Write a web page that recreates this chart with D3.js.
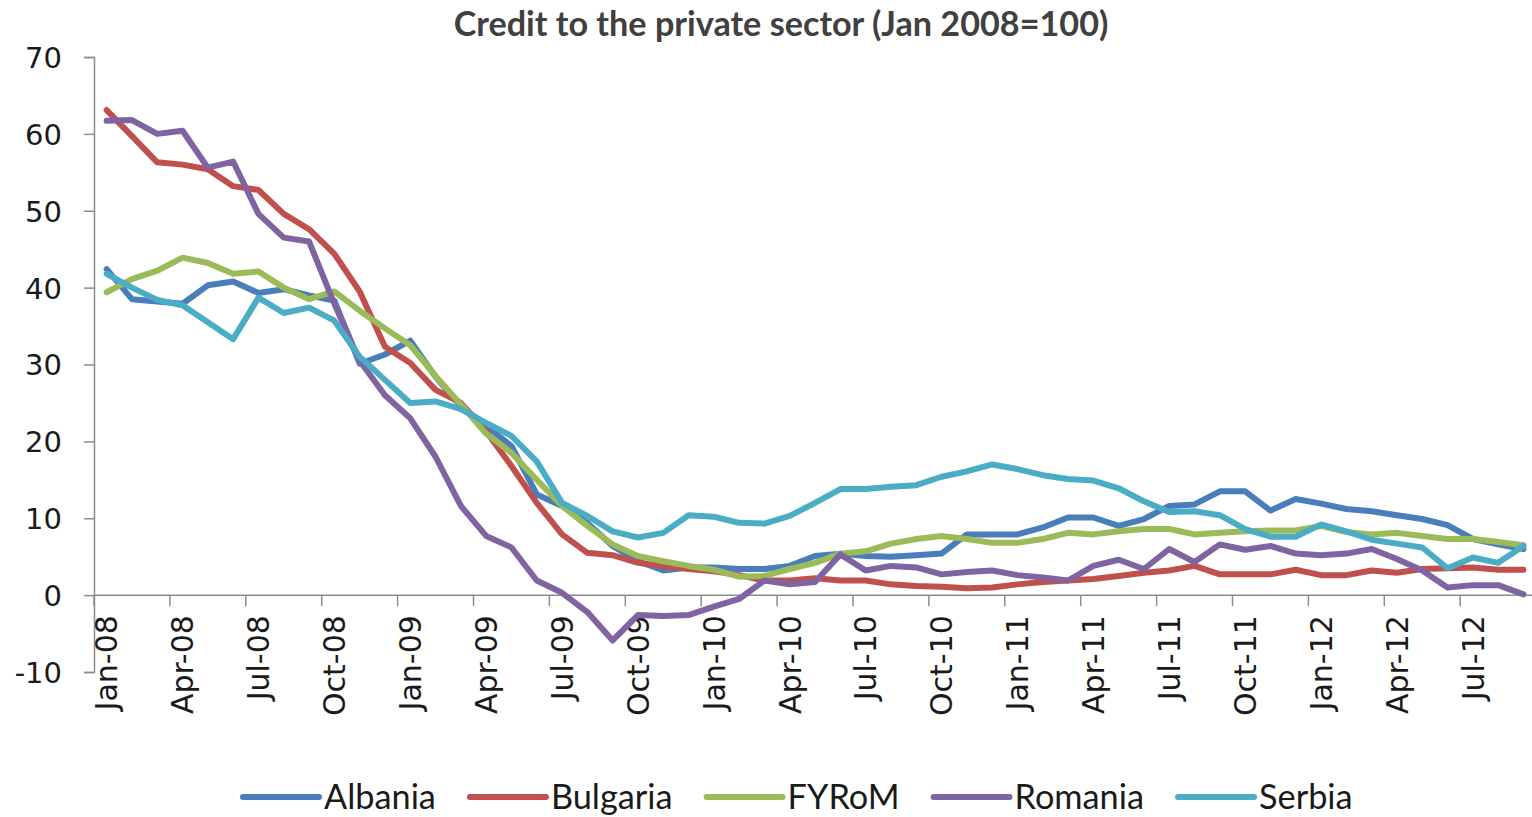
<!DOCTYPE html>
<html>
<head>
<meta charset="utf-8">
<script src="https://cdn.jsdelivr.net/npm/d3@7"></script>
<style>
  html, body { margin: 0; padding: 0; background: #fff; }
  svg { display: block; }
</style>
</head>
<body>
<svg id="chart" width="1532" height="817"></svg>
<script>
const months = [
  "Jan-08","Feb-08","Mar-08","Apr-08","May-08","Jun-08","Jul-08","Aug-08","Sep-08","Oct-08","Nov-08","Dec-08",
  "Jan-09","Feb-09","Mar-09","Apr-09","May-09","Jun-09","Jul-09","Aug-09","Sep-09","Oct-09","Nov-09","Dec-09",
  "Jan-10","Feb-10","Mar-10","Apr-10","May-10","Jun-10","Jul-10","Aug-10","Sep-10","Oct-10","Nov-10","Dec-10",
  "Jan-11","Feb-11","Mar-11","Apr-11","May-11","Jun-11","Jul-11","Aug-11","Sep-11","Oct-11","Nov-11","Dec-11",
  "Jan-12","Feb-12","Mar-12","Apr-12","May-12","Jun-12","Jul-12","Aug-12","Sep-12"
];
const tickLabels = ["Jan-08","Apr-08","Jul-08","Oct-08","Jan-09","Apr-09","Jul-09","Oct-09","Jan-10","Apr-10","Jul-10","Oct-10","Jan-11","Apr-11","Jul-11","Oct-11","Jan-12","Apr-12","Jul-12"];
const yTicks = [-10, 0, 10, 20, 30, 40, 50, 60, 70];

const seriesNames = ["Albania", "Bulgaria", "FYRoM", "Romania", "Serbia"];
const seriesColors = ["#4A7EBB", "#C0504D", "#9BBB59", "#8064A2", "#4BACC6"];

const albania = [42.4,38.5,38.2,37.9,40.3,40.8,39.3,39.8,39.0,38.3,30.1,31.3,
  33.1,28.4,24.6,22.0,19.4,13.1,11.6,9.4,6.4,4.4,3.2,3.6,
  3.6,3.4,3.4,3.8,5.1,5.4,5.1,5.0,5.2,5.4,7.9,7.9,
  7.9,8.8,10.1,10.1,9.0,9.9,11.6,11.8,13.5,13.5,11.0,12.5,
  11.9,11.2,10.9,10.4,9.9,9.1,7.3,6.6,6.0];
const bulgaria = [63.1,59.7,56.3,56.0,55.4,53.2,52.7,49.6,47.6,44.4,39.5,32.3,
  30.2,26.7,25.0,21.3,16.8,12.0,7.9,5.5,5.2,4.2,3.8,3.4,
  3.1,2.6,1.9,1.9,2.2,1.9,1.9,1.4,1.2,1.1,0.9,1.0,
  1.4,1.7,1.9,2.1,2.5,2.9,3.2,3.8,2.7,2.7,2.7,3.3,
  2.6,2.6,3.2,2.9,3.4,3.5,3.6,3.3,3.3];
const fyrom = [39.4,41.1,42.2,43.9,43.2,41.8,42.1,40.0,38.5,39.5,37.0,34.7,
  32.5,28.5,24.8,21.0,18.5,15.0,11.6,9.0,6.6,5.1,4.4,3.8,
  3.3,2.4,2.5,3.4,4.2,5.4,5.7,6.7,7.3,7.7,7.3,6.8,
  6.8,7.3,8.1,7.9,8.3,8.6,8.6,7.9,8.1,8.3,8.4,8.4,
  9.0,8.2,7.9,8.1,7.7,7.3,7.3,6.9,6.5];
const romania = [61.7,61.8,60.0,60.4,55.6,56.4,49.6,46.5,46.0,37.9,30.5,26.0,
  23.0,18.0,11.6,7.7,6.2,1.9,0.3,-2.2,-5.9,-2.6,-2.7,-2.6,
  -1.5,-0.5,1.9,1.4,1.7,5.3,3.2,3.8,3.6,2.7,3.0,3.2,
  2.6,2.3,1.9,3.8,4.6,3.4,6.0,4.3,6.6,5.9,6.4,5.4,
  5.2,5.4,6.0,4.7,3.2,1.0,1.3,1.3,0.1];
const serbia = [41.8,40.0,38.4,37.7,35.5,33.3,38.7,36.7,37.4,35.7,31.0,28.0,
  25.0,25.2,24.2,22.4,20.7,17.4,12.0,10.3,8.3,7.5,8.1,10.4,
  10.2,9.4,9.3,10.3,12.0,13.8,13.8,14.1,14.3,15.4,16.1,17.0,
  16.4,15.6,15.1,14.9,13.9,12.2,10.8,10.9,10.4,8.6,7.6,7.6,
  9.2,8.3,7.2,6.7,6.2,3.5,4.9,4.2,6.4];

const title = "Credit to the private sector (Jan 2008=100)";

(function () {
const seriesValues = [albania, bulgaria, fyrom, romania, serbia];
const series = seriesNames.map((name, k) => ({ name, color: seriesColors[k], values: seriesValues[k] }));

const svg = d3.select("#chart");
const pLeft = 94, pRight = 94 + 57 * 25.3, pTop = 57, pBottom = 672;
const tickFont = "'DejaVu Sans', Verdana, sans-serif";

const x = d3.scaleBand().domain(months).range([pLeft, pRight]).padding(0);
const y = d3.scaleLinear().domain([-10, 70]).range([pBottom, pTop]);
const axisColor = "#8c8c8c";

// Title
const t = svg.append("text")
  .attr("x", 781).attr("y", 36)
  .attr("text-anchor", "middle")
  .style("font-family", "Lato, 'Open Sans', sans-serif")
  .style("font-weight", "bold")
  .style("font-size", "34px")
  .attr("fill", "#404040")
  .text(title);
{
  const w = t.node().getComputedTextLength();
  if (w > 0) t.style("font-size", (34 * 655 / w) + "px");
}

// Y axis
const yAxis = d3.axisLeft(y).tickValues(yTicks).tickSize(10).tickPadding(22).tickFormat(d => String(d));
const gy = svg.append("g").attr("transform", `translate(${pLeft},0)`).call(yAxis);
gy.select(".domain").attr("stroke", axisColor).attr("stroke-width", 1.5);
gy.selectAll(".tick line").attr("stroke", axisColor).attr("stroke-width", 1.5);
gy.selectAll(".tick text")
  .style("font-family", tickFont)
  .style("font-size", "29px")
  .attr("fill", "#1a1a1a")
  .attr("dy", "0.36em");

// X axis at zero
const y0 = y(0);
const gx = svg.append("g").attr("transform", `translate(0,${y0})`);
gx.append("line").attr("x1", pLeft).attr("x2", pRight).attr("y1", 0).attr("y2", 0)
  .attr("stroke", axisColor).attr("stroke-width", 1.5);
gx.selectAll("line.tk").data(tickLabels).enter().append("line")
  .attr("class", "tk")
  .attr("x1", d => x(d)).attr("x2", d => x(d))
  .attr("y1", 0).attr("y2", 11)
  .attr("stroke", axisColor).attr("stroke-width", 1.5);
gx.selectAll("text.lbl").data(tickLabels).enter().append("text")
  .attr("class", "lbl")
  .attr("transform", d => `translate(${x(d) + x.bandwidth() / 2},20) rotate(-90)`)
  .attr("text-anchor", "end")
  .attr("dy", "0.36em")
  .style("font-family", tickFont)
  .style("font-size", "30px")
  .attr("fill", "#1a1a1a")
  .text(d => d);

// Lines
const line = d3.line()
  .x((d, i) => x(months[i]) + x.bandwidth() / 2)
  .y(d => y(d));
svg.append("g").selectAll("path").data(series).enter().append("path")
  .attr("d", d => line(d.values))
  .attr("fill", "none")
  .attr("stroke", d => d.color)
  .attr("stroke-width", 6)
  .attr("stroke-linejoin", "round")
  .attr("stroke-linecap", "round");

// Legend
const lg = svg.append("g");
const legendY = 797;
const items = [];
series.forEach(s => {
  const sw = lg.append("line")
    .attr("y1", legendY).attr("y2", legendY)
    .attr("stroke", s.color).attr("stroke-width", 6).attr("stroke-linecap", "round");
  const tx = lg.append("text")
    .attr("y", legendY)
    .attr("dy", "0.35em")
    .style("font-family", "Lato, 'Open Sans', sans-serif")
    .style("font-size", "34px")
    .attr("fill", "#1a1a1a")
    .text(s.name);
  items.push({ sw, tx });
});
let total = 0;
items.forEach(it => total += it.tx.node().getComputedTextLength());
const fs = total > 0 ? 34 * 569 / total : 34;
let cx = 243;
items.forEach(it => {
  it.tx.style("font-size", fs + "px");
  it.sw.attr("x1", cx).attr("x2", cx + 76);
  it.tx.attr("x", cx + 81);
  cx = cx + 81 + it.tx.node().getComputedTextLength() + 34;
});
})();
</script>
</body>
</html>
